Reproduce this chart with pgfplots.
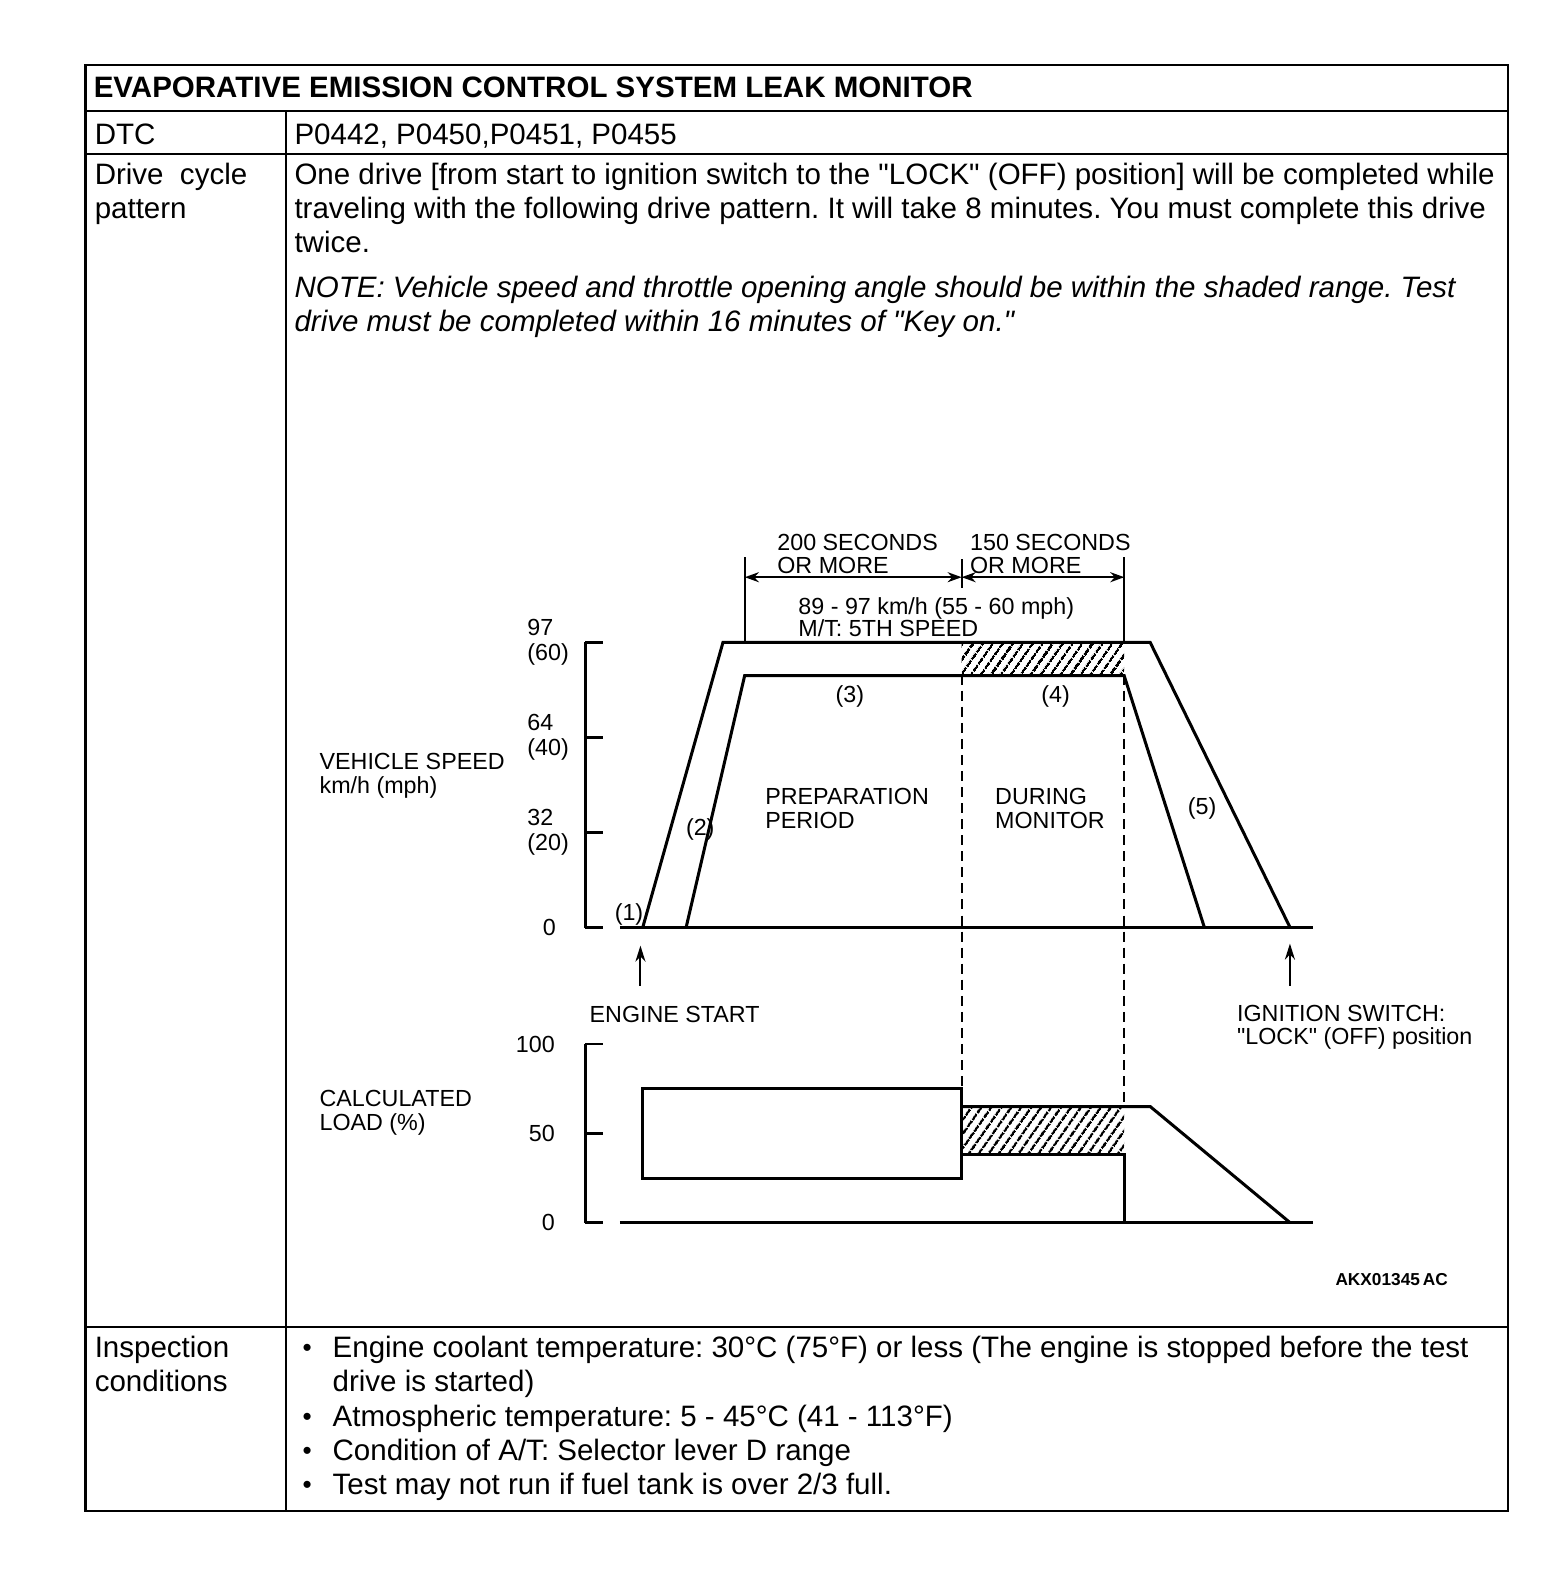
\documentclass[border=0pt]{standalone}
\usepackage{pgfplots}
\pgfplotsset{compat=1.18}
\usetikzlibrary{patterns.meta,arrows.meta}
\usepackage{fontspec}
\setmainfont{Liberation Sans}
\frenchspacing
\newcommand\bodyfont{\fontsize{14.7pt}{17pt}\selectfont}
\newcommand\chartfont{\fontsize{11.6pt}{12.5pt}\selectfont}
\newcommand\q{\textquotedbl}
\pgfplotsset{drivechart/.style={scale only axis, clip=false,
  axis x line=none, axis y line=left, axis line style={-, line width=1.3pt},
  xtick=\empty, xmin=-53, xmax=620, width=363.5pt,
  tick align=inside, major tick length=9pt, tick style={black, line width=1.3pt}},
  curve/.style={black, mark=none, line width=1.5pt},
  hatch/.style={draw=none, pattern={Lines[angle=55, distance=4pt, line width=1.3pt]}}}
\begin{document}
\begin{tikzpicture}[x=0.5pt,y=-0.5pt,
  txt/.style={anchor=base west, inner sep=0pt, font=\bodyfont},
  ctxt/.style={anchor=base west, inner sep=0pt, font=\chartfont}]
\useasboundingbox (0,0) rectangle (1562,1568);
% ---- table frame
\draw[line width=1.2pt] (85,65) rectangle (1502,1505);
\draw[line width=1pt] (85,111) -- (1502,111);
\draw[line width=1pt] (85,153) -- (1502,153);
\draw[line width=1pt] (85,1322) -- (1502,1322);
\draw[line width=1pt] (285,111) -- (285,1505);
% ---- table text
\node[txt, font=\bodyfont\bfseries] at (93,97) {EVAPORATIVE EMISSION CONTROL SYSTEM LEAK MONITOR};
\node[txt] at (94,144) {DTC};
\node[txt] at (293,144) {P0442, P0450,P0451, P0455};
\node[txt] at (94,184) {Drive\ \ cycle};
\node[txt] at (94,218) {pattern};
\node[txt] at (293,184) {One drive [from start to ignition switch to the \q LOCK\q\ (OFF) position] will be completed while};
\node[txt] at (293,218) {traveling with the following drive pattern. It will take 8 minutes. You must complete this drive};
\node[txt] at (293,252) {twice.};
\node[txt, font=\bodyfont\itshape] at (293,296) {NOTE: Vehicle speed and throttle opening angle should be within the shaded range. Test};
\node[txt, font=\bodyfont\itshape] at (293,330) {drive must be completed within 16 minutes of \q Key on.\q};
\node[txt] at (94,1352) {Inspection};
\node[txt] at (94,1386) {conditions};
\foreach \yy in {1352,1421,1455,1489} \node[anchor=base west, inner sep=0pt, font=\fontsize{13pt}{14pt}\selectfont] at (301,\yy-1) {\textbullet};
\node[txt] at (331,1352) {Engine coolant temperature: 30°C (75°F) or less (The engine is stopped before the test};
\node[txt] at (331,1386) {drive is started)};
\node[txt] at (331,1421) {Atmospheric temperature: 5 - 45°C (41 - 113°F)};
\node[txt] at (331,1455) {Condition of A/T: Selector lever D range};
\node[txt] at (331,1489) {Test may not run if fuel tank is over 2/3 full.};
% ---- vehicle speed chart (time in s, speed in mph)
\begin{axis}[drivechart, at={(291.5pt,-462pt)}, anchor=south west,
  height=142pt, ymin=0, ymax=60,
  ytick={0,20,40,60},
  yticklabels={{0\hphantom{0}},{32\\(20)},{64\\(40)},{97\\(60)}},
  yticklabel style={font=\chartfont, align=left, anchor=east, inner sep=0pt, xshift=-8pt}]
\addplot[hatch] coordinates {(294,53) (294,60) (444,60) (444,53)} -- cycle;
\addplot[curve] coordinates {(0,0) (74,60) (468,60) (597,0)};
\addplot[curve] coordinates {(40,0) (94,53) (444,53) (518,0)};
\addplot[curve] coordinates {(-21,0) (618,0)};
\end{axis}
% ---- calculated load chart (time in s, load in %)
\begin{axis}[drivechart, at={(291.5pt,-609pt)}, anchor=south west,
  height=89pt, ymin=0, ymax=100,
  ytick={0,50,100}, yticklabels={0,50,100},
  yticklabel style={font=\chartfont, anchor=east, inner sep=0pt, xshift=-15pt}]
\addplot[hatch] coordinates {(294,38) (294,65) (444,65) (444,38)} -- cycle;
\addplot[curve] coordinates {(0,25) (0,75) (294,75) (294,25)} -- cycle;
\addplot[curve] coordinates {(294,65) (468,65) (597,0)};
\addplot[curve] coordinates {(294,38) (444,38) (444,0)};
\addplot[curve] coordinates {(-21,0) (618,0)};
\end{axis}
% ---- annotations
\draw[line width=1pt, dash pattern=on 5pt off 3pt] (958,672) -- (958,1083);
\draw[line width=1pt, dash pattern=on 5pt off 3pt] (1120,672) -- (1120,1103);
\draw[line width=1pt] (742,555) -- (742,640);
\draw[line width=1pt] (1120,555) -- (1120,640);
\draw[line width=1pt] (958,557) -- (958,586);
\draw[line width=1pt, {Stealth[length=7pt,width=5pt]}-{Stealth[length=7pt,width=5pt]}] (742,575) -- (958,575);
\draw[line width=1pt, {Stealth[length=7pt,width=5pt]}-{Stealth[length=7pt,width=5pt]}] (958,575) -- (1120,575);
\draw[line width=1pt, -{Stealth[length=8pt,width=5pt]}] (638,982) -- (638,942);
\draw[line width=1pt, -{Stealth[length=8pt,width=5pt]}] (1285,982) -- (1285,940);
\node[ctxt] at (774,548) {200 SECONDS};
\node[ctxt] at (774,571) {OR MORE};
\node[ctxt] at (966,548) {150 SECONDS};
\node[ctxt] at (966,571) {OR MORE};
\node[ctxt] at (795,612) {89 - 97 km/h (55 - 60 mph)};
\node[ctxt] at (795,634) {M/T: 5TH SPEED};
\node[ctxt] at (612,917) {(1)};
\node[ctxt] at (683,832) {(2)};
\node[ctxt] at (832,700) {(3)};
\node[ctxt] at (1037,700) {(4)};
\node[ctxt] at (1183,811) {(5)};
\node[ctxt] at (762,801) {PREPARATION};
\node[ctxt] at (762,825) {PERIOD};
\node[ctxt] at (991,801) {DURING};
\node[ctxt] at (991,825) {MONITOR};
\node[ctxt] at (318,767) {VEHICLE SPEED};
\node[ctxt] at (318,790) {km/h (mph)};
\node[ctxt] at (587,1019) {ENGINE START};
\node[ctxt] at (1232,1018) {IGNITION SWITCH:};
\node[ctxt] at (1232,1041) {\q LOCK\q\ (OFF) position};
\node[ctxt] at (318,1102) {CALCULATED};
\node[ctxt] at (318,1126) {LOAD (\%)};
\node[anchor=base west, inner sep=0pt, font=\fontsize{8.6pt}{10pt}\selectfont\bfseries] at (1330,1281) {AKX01345\,AC};
\end{tikzpicture}
\end{document}
